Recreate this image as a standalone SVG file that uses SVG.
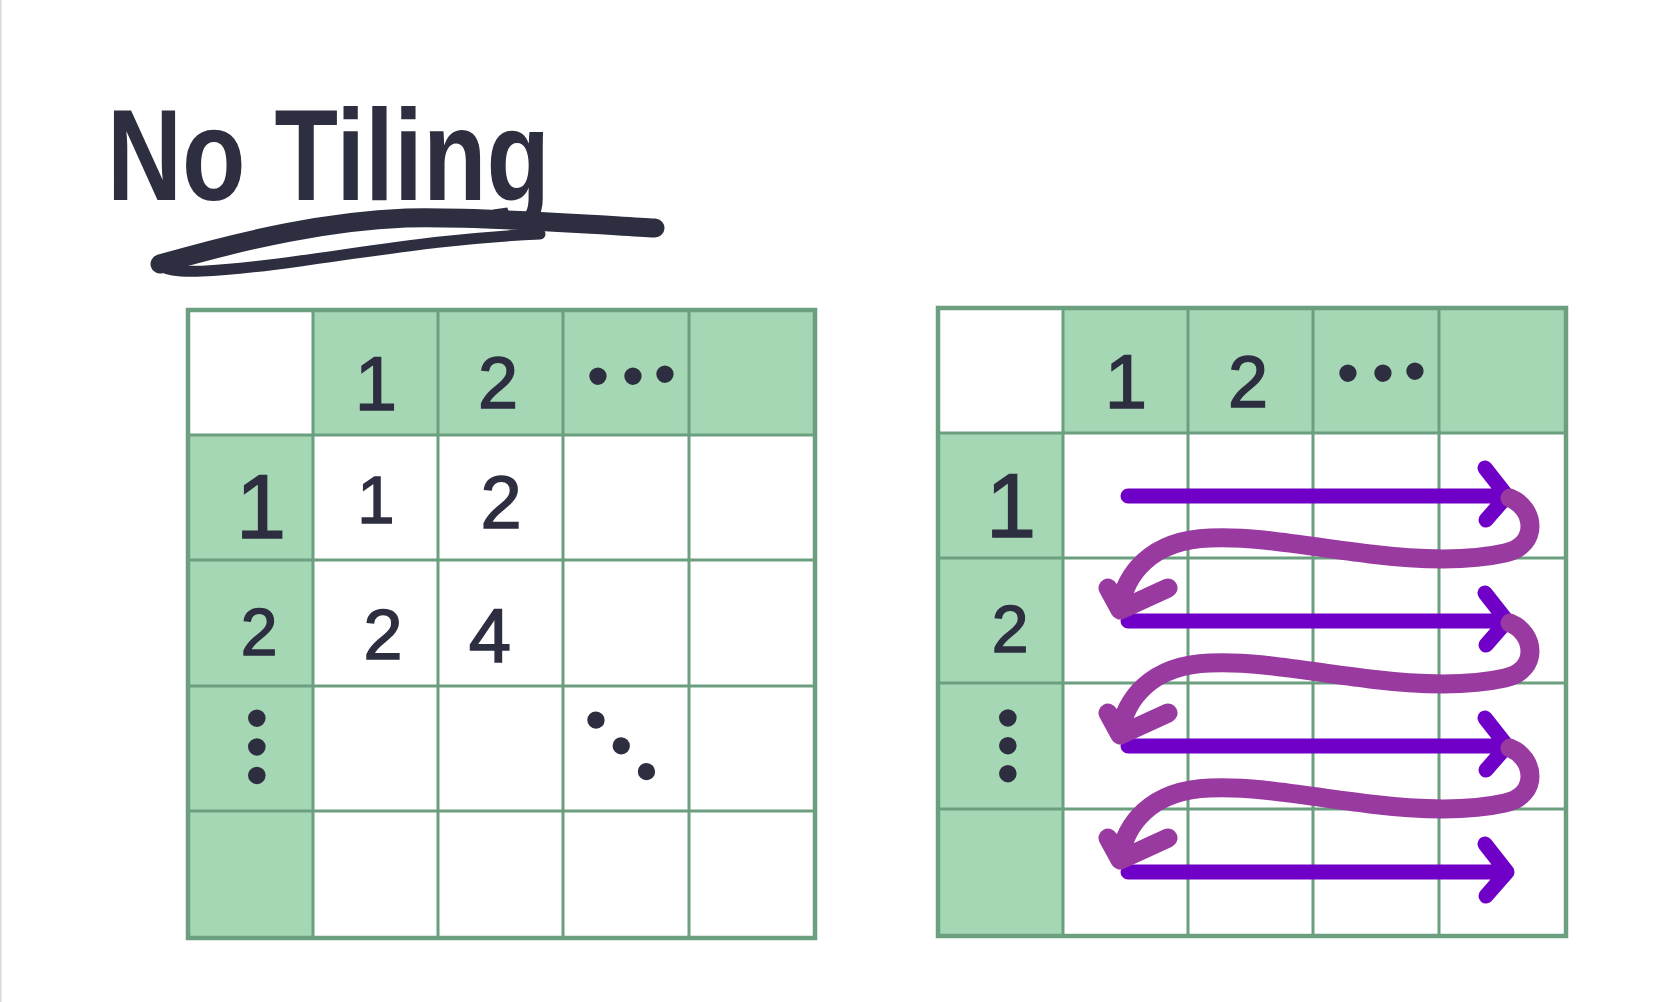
<svg xmlns="http://www.w3.org/2000/svg" width="1677" height="1002" viewBox="0 0 1677 1002">
<defs>
<style>
.bg{fill:#ffffff}
.hd{fill:#a5d7b4}
.ln{stroke:#6c9f80;stroke-width:3;fill:none}
.bd{stroke:#6c9f80;stroke-width:4.5;fill:none}
.d{font-family:"Liberation Sans",Arial,sans-serif;fill:#2d2e40;stroke:#2d2e40;stroke-width:1.5;text-anchor:middle}
.dots{font-family:"Liberation Sans",Arial,sans-serif;font-size:64px;fill:#2d2e40;text-anchor:middle}
.ttl{font-family:"Liberation Sans",Arial,sans-serif;font-weight:bold;fill:#2d2e40}
.ul{stroke:#2d2e40;fill:none;stroke-linecap:round;stroke-linejoin:round}
.ar{stroke:#7000c8;stroke-width:15;fill:none;stroke-linecap:round;stroke-linejoin:round}
.cv{stroke:#983a9f;stroke-width:19;fill:none;stroke-linecap:round;stroke-linejoin:round}
</style>
</defs>
<rect class="bg" x="0" y="0" width="1677" height="1002"/>
<rect x="0" y="0" width="1.5" height="1002" fill="#dadada"/>

<g id="title">
<text class="ttl" x="107" y="200" font-size="130" textLength="443" lengthAdjust="spacingAndGlyphs">No Tiling</text>
<path class="ul" stroke-width="19" d="M655 228 C600 225 480 216 406 218 C330 221 250 238 160 264"/>
<path class="ul" stroke-width="11" d="M160 264 C165 276 220 272 300 261 C380 250 450 238 540 234"/>
</g>

<g id="grid-left">
<rect class="hd" x="313" y="310" width="502" height="125"/>
<rect class="hd" x="188" y="435" width="125" height="503"/>
<path class="ln" d="M313 310 V938 M438 310 V938 M563 310 V938 M689 310 V938 M188 435 H815 M188 560 H815 M188 686 H815 M188 811 H815"/>
<rect class="bd" x="188" y="310" width="627" height="628"/>
</g>

<g id="grid-right">
<rect class="hd" x="1063" y="308" width="503" height="125"/>
<rect class="hd" x="938" y="433" width="125" height="503"/>
<path class="ln" d="M1063 308 V936 M1188 308 V936 M1313 308 V936 M1439 308 V936 M938 433 H1566 M938 558 H1566 M938 683 H1566 M938 809 H1566"/>
<rect class="bd" x="938" y="308" width="628" height="628"/>
</g>

<g id="labels-left">
<text class="d" x="376" y="410" font-size="76">1</text>
<text class="d" x="498" y="408" font-size="72">2</text>
<text class="dots"><tspan x="598" y="398">•</tspan><tspan x="633" y="398">•</tspan><tspan x="665" y="396">•</tspan></text>
<text class="d" x="261" y="538" font-size="90">1</text>
<text class="d" x="259" y="655" font-size="66">2</text>
<text class="dots" font-size="48" letter-spacing="6.2" x="256" y="765" transform="rotate(90 253 747)">•••</text>
<text class="d" x="376" y="523" font-size="67">1</text>
<text class="d" x="501" y="528" font-size="74">2</text>
<text class="d" x="383" y="659" font-size="70">2</text>
<text class="d" x="490" y="662" font-size="76">4</text>
<text class="dots" font-size="56" letter-spacing="13.7" x="628" y="767" transform="rotate(45.5 621 746)">•••</text>
</g>

<g id="labels-right">
<text class="d" x="1126" y="408" font-size="76">1</text>
<text class="d" x="1248" y="407" font-size="72">2</text>
<text class="dots"><tspan x="1348" y="395">•</tspan><tspan x="1383" y="395">•</tspan><tspan x="1415" y="393">•</tspan></text>
<text class="d" x="1011" y="537" font-size="90">1</text>
<text class="d" x="1010" y="652" font-size="66">2</text>
<text class="dots" font-size="48" letter-spacing="5.5" x="1006.5" y="763.5" transform="rotate(90 1003.5 745.5)">•••</text>
</g>

<g id="connectors">
<path class="ar" d="M1128 496 H1506 M1485 468 L1507 496 L1486 520"/>
<path class="ar" d="M1128 621 H1506 M1485 593 L1507 621 L1486 645"/>
<path class="ar" d="M1128 746 H1506 M1485 718 L1507 746 L1486 770"/>
<path class="ar" d="M1128 872 H1506 M1485 844 L1507 872 L1486 896"/>
<path class="cv" d="M1510 498 C1535 508 1540 545 1505 553 C1470 561 1420 560 1370 554 C1310 547 1260 536 1210 538 C1150 540 1125 575 1120 608 M1108 588 L1120 610 L1168 588"/>
<path class="cv" d="M1510 623 C1535 633 1540 670 1505 678 C1470 686 1420 685 1370 679 C1310 672 1260 661 1210 663 C1150 665 1125 700 1120 733 M1108 713 L1120 735 L1168 713"/>
<path class="cv" d="M1510 748 C1535 758 1540 795 1505 803 C1470 811 1420 810 1370 804 C1310 797 1260 786 1210 788 C1150 790 1125 825 1120 858 M1108 838 L1120 860 L1168 838"/>
</g>
</svg>
